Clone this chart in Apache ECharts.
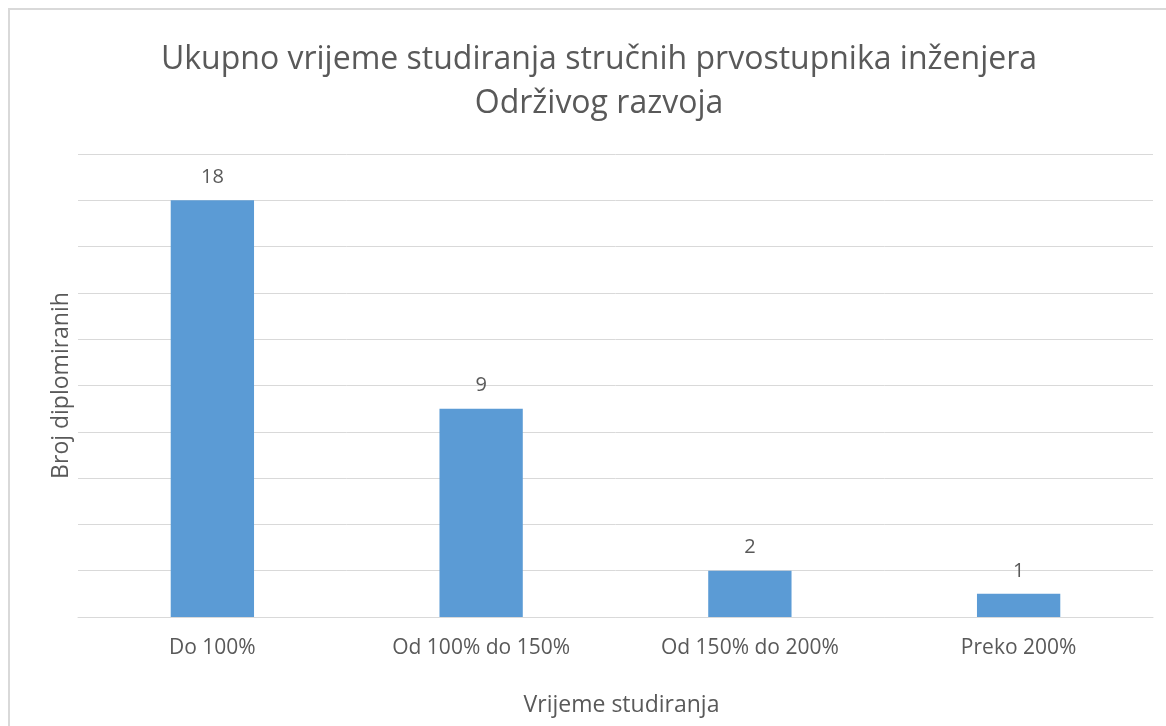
<!DOCTYPE html>
<html>
<head>
<meta charset="utf-8">
<script src="https://cdn.jsdelivr.net/npm/echarts@6/dist/echarts.min.js"></script>
<style>
html,body{margin:0;padding:0;background:#fff;}
#chart{width:1166px;height:726px;}
</style>
</head>
<body>
<div id="chart"></div>
<script>
const titleText = 'Ukupno vrijeme studiranja stručnih prvostupnika inženjera\nOdrživog razvoja';
const categories = ['Do 100%', 'Od 100% do 150%', 'Od 150% do 200%', 'Preko 200%'];
const values = [18, 9, 2, 1];
const xAxisName = 'Vrijeme studiranja';
const yAxisName = 'Broj diplomiranih';

const FONT = '"Open Sans", sans-serif';
const TXT = '#595959';
const chart = echarts.init(document.getElementById('chart'), null, {renderer: 'canvas'});
chart.setOption({
  backgroundColor: '#ffffff',
  animation: false,
  graphic: [{
    type: 'rect', silent: true,
    shape: {x: 9, y: 9, width: 1300, height: 900},
    style: {fill: 'none', stroke: '#d9d9d9', lineWidth: 2}
  }],
  title: {
    text: titleText,
    left: 594,
    textAlign: 'center',
    top: 33,
    textStyle: {fontFamily: FONT, fontSize: 32, fontWeight: 'normal', color: TXT, lineHeight: 44}
  },
  grid: {left: 78, right: 13, top: 154, bottom: 109, containLabel: false},
  xAxis: {
    type: 'category',
    data: categories,
    name: xAxisName,
    nameLocation: 'middle',
    nameGap: 77,
    nameTextStyle: {fontFamily: FONT, fontSize: 23, color: TXT, padding: [0, 0, 0, 12]},
    axisLine: {show: true, lineStyle: {color: '#d9d9d9', width: 1}},
    axisTick: {show: false},
    axisLabel: {fontFamily: FONT, fontSize: 21, color: TXT, margin: 21}
  },
  yAxis: {
    type: 'value',
    min: 0, max: 20, interval: 2,
    name: yAxisName,
    nameLocation: 'middle',
    nameGap: 5,
    nameTextStyle: {fontFamily: FONT, fontSize: 23, color: TXT},
    axisLine: {show: false},
    axisTick: {show: false},
    axisLabel: {show: false},
    splitLine: {lineStyle: {color: '#d9d9d9', width: 1}}
  },
  series: [{
    type: 'bar',
    data: values,
    barWidth: '31%',
    itemStyle: {color: '#5b9bd5'},
    label: {show: true, position: 'top', distance: 13, fontFamily: FONT, fontSize: 20, color: TXT}
  }]
});
</script>
</body>
</html>
